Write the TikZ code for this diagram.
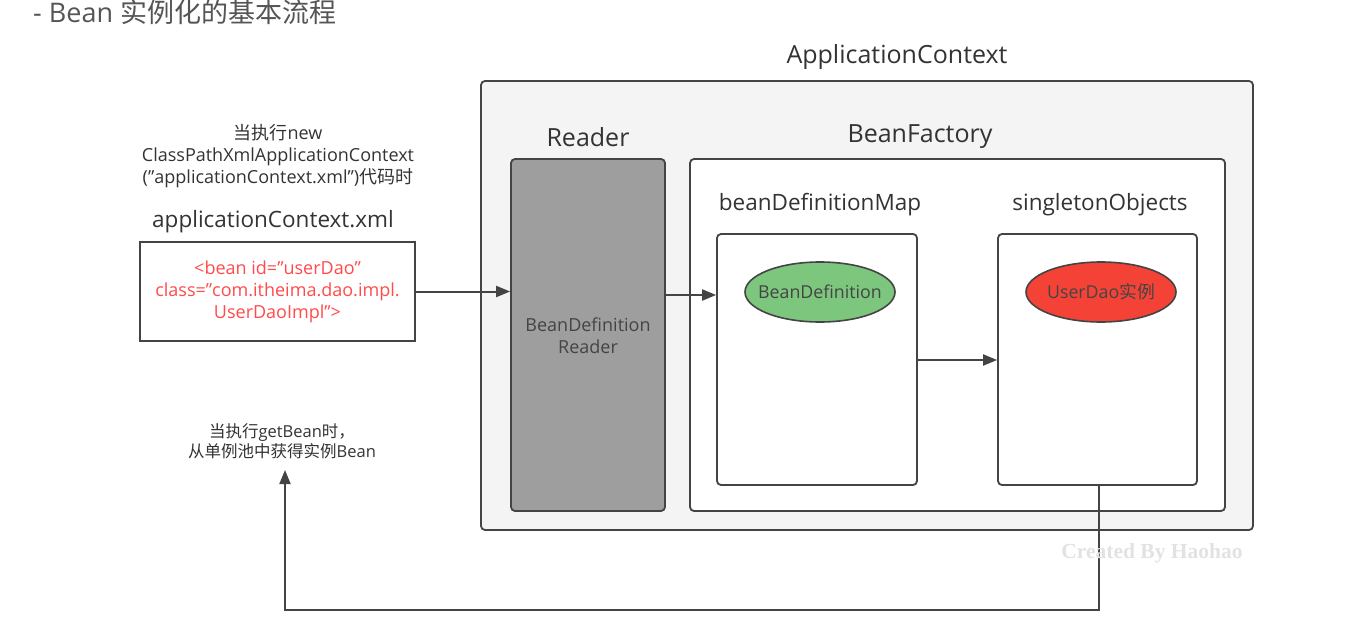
\documentclass[tikz,border=0pt]{standalone}
\usepackage{fontspec}
\setmainfont{Open Sans}
\newfontfamily\cjk{Noto Sans CJK SC}
\usetikzlibrary{arrows.meta,shapes.geometric}
\definecolor{txt}{HTML}{333333}
\definecolor{ttl}{HTML}{555555}
\definecolor{bord}{HTML}{444444}
\definecolor{bgbox}{HTML}{F4F4F4}
\definecolor{readerfill}{HTML}{9E9E9E}
\definecolor{greenfill}{HTML}{7DC67E}
\definecolor{redfill}{HTML}{F44336}
\definecolor{codered}{HTML}{FF4B4B}
\definecolor{wm}{HTML}{E2E2E2}
\tikzset{
  box/.style={draw=bord, line width=1.8pt, rounded corners=4pt, inner sep=0pt},
  lbl/.style={text=txt, font=\fontsize{22.5}{26}\selectfont, inner sep=0pt},
  biglbl/.style={text=txt, font=\fontsize{25}{28}\selectfont, inner sep=0pt},
  small/.style={text=txt, font=\fontsize{18}{22}\selectfont, align=center, inner sep=0pt},
  ell/.style={ellipse, draw=bord, line width=1.6pt, minimum width=150pt, minimum height=60pt, inner sep=0pt},
  elltxt/.style={text=bord, font=\fontsize{17.8}{20}\selectfont, inner sep=0pt},
  conn/.style={draw=bord, line width=2pt, -{Triangle[length=14pt,width=11pt]}},
}
\begin{document}
\begin{tikzpicture}[x=1pt,y=-1pt]
\useasboundingbox (0,0) rectangle (1356,629);
% title
\node[anchor=west, text=ttl, font=\fontsize{27}{30}\selectfont, inner sep=0pt] (title) at (33,12) {- Bean {\cjk 实例化的基本流程}};
% ApplicationContext
\node[biglbl] (aclbl) at (897,57) {ApplicationContext};
\path[box, fill=bgbox] (481,81) rectangle (1253,530);
\node[biglbl] (readerlbl) at (588,137) {Reader};
\node[biglbl] (bflbl) at (920,137) {BeanFactory};
% reader
\node[box, fill=readerfill, minimum width=154pt, minimum height=352pt] (reader) at (588,335) {};
\node[text=bord, font=\fontsize{18}{22}\selectfont, align=center] (readertxt) at (588,336) {BeanDefinition\\Reader};
% bean factory
\node[box, fill=white, minimum width=535pt, minimum height=352pt] (bf) at (957.5,335) {};
\node[lbl] (bdmlbl) at (820,205) {beanDefinitionMap};
\node[lbl] (solbl) at (1100,205) {singletonObjects};
\node[box, fill=white, minimum width=200pt, minimum height=251pt] (bdm) at (817,359.5) {};
\node[box, fill=white, minimum width=199pt, minimum height=251pt] (so) at (1097.5,359.5) {};
\node[ell, fill=greenfill] (bd) at (820,292) {};
\node[elltxt] (bdtxt) at (bd.center) {BeanDefinition};
\node[ell, fill=redfill] (ud) at (1101,292) {};
\node[elltxt] (udtxt) at (ud.center) {UserDao{\cjk 实例}};
% xml
\node[lbl] (xmllbl) at (273,222) {applicationContext.xml};
\node[draw=bord, line width=1.8pt, fill=white, minimum width=275pt, minimum height=99pt, inner sep=0pt] (xml) at (277.5,291.5) {};
\node[text=codered, font=\fontsize{18}{22}\selectfont, align=center] (xmltxt) at (277.5,292) {<bean id=\symbol{34}userDao\symbol{34}\\class=\symbol{34}com.itheima.dao.impl.\\UserDaoImpl\symbol{34}>};
\node[small] (note1) at (278,156) {{\cjk 当执行}new\\ClassPathXmlApplicationContext\\(\symbol{34}applicationContext.xml\symbol{34}){\cjk 代码时}};
\node[small, font=\fontsize{16.5}{20}\selectfont] (note2) at (282,441) {{\cjk 当执行}getBean{\cjk 时，}\\{\cjk 从单例池中获得实例}Bean};
\coordinate (ret) at (285,470);
% connectors
\draw[conn] (xml.east) -- (reader.west |- xml.east);
\draw[conn] (reader.east |- 0,295) -- (bdm.west |- 0,295);
\draw[conn] (bdm.east |- 0,360) -- (so.west |- 0,360);
\draw[conn] (so.south -| 1099,0) -- (1099,610) -- (285,610) -- (ret);
% watermark
\node[text=wm, font=\fontspec{Liberation Serif}\bfseries\fontsize{21.5}{24}\selectfont, inner sep=0pt] (wmark) at (1152,553) {Created By Haohao};
\end{tikzpicture}
\end{document}
